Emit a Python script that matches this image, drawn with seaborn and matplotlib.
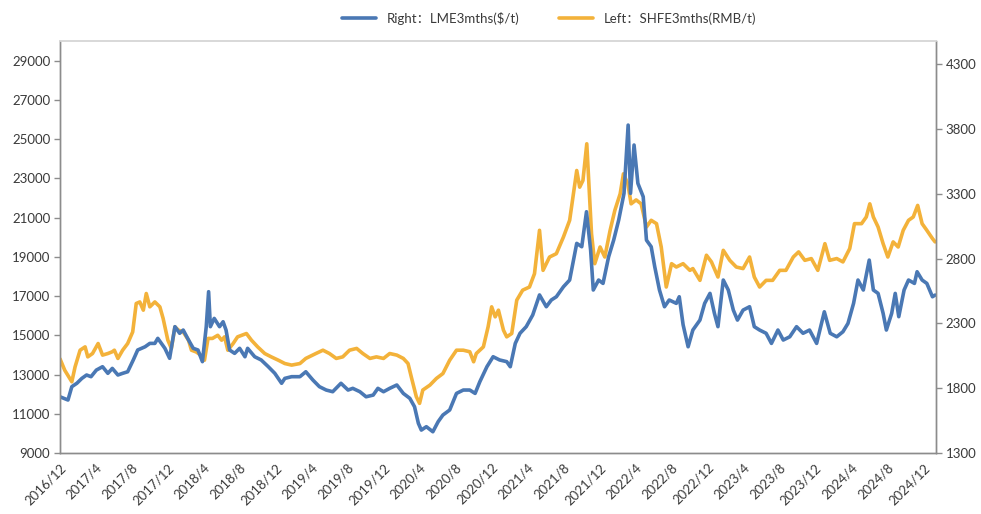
import seaborn as sns
import matplotlib.pyplot as plt
import pandas as pd

# SHFE 3-month price, RMB/t (left axis)
shfe_dates = [
    "2016-12-01", "2016-12-17", "2017-01-10", "2017-01-21", "2017-02-07", "2017-02-24", "2017-03-05",
    "2017-03-21", "2017-04-09", "2017-04-24", "2017-05-12", "2017-05-27", "2017-06-03", "2017-06-15",
    "2017-07-01", "2017-07-18", "2017-08-04", "2017-08-16", "2017-08-28", "2017-09-09", "2017-09-19",
    "2017-10-01", "2017-10-18", "2017-11-04", "2017-11-15", "2017-12-01", "2017-12-13", "2017-12-25",
    "2018-01-06", "2018-01-22", "2018-02-09", "2018-02-19", "2018-03-07", "2018-03-22", "2018-04-04",
    "2018-04-16", "2018-05-01", "2018-05-19", "2018-06-01", "2018-06-11", "2018-06-22", "2018-07-10",
    "2018-07-25", "2018-08-24", "2018-09-10", "2018-10-01", "2018-10-25", "2018-11-16", "2018-12-10",
    "2019-01-01", "2019-01-24", "2019-02-21", "2019-03-13", "2019-04-16", "2019-05-10", "2019-06-01",
    "2019-06-24", "2019-07-16", "2019-08-08", "2019-09-01", "2019-09-22", "2019-10-16", "2019-11-07",
    "2019-12-01", "2019-12-22", "2020-01-15", "2020-02-06", "2020-02-22", "2020-03-04", "2020-03-21",
    "2020-04-01", "2020-04-12", "2020-05-06", "2020-05-28", "2020-06-19", "2020-07-12", "2020-08-04",
    "2020-08-27", "2020-09-18", "2020-10-01", "2020-10-10", "2020-11-03", "2020-11-19", "2020-12-01",
    "2020-12-13", "2020-12-24", "2021-01-10", "2021-01-21", "2021-02-07", "2021-02-24", "2021-03-16",
    "2021-04-08", "2021-04-25", "2021-05-12", "2021-05-24", "2021-06-15", "2021-07-08", "2021-08-01",
    "2021-08-22", "2021-09-15", "2021-09-25", "2021-10-06", "2021-10-19", "2021-11-04", "2021-11-15",
    "2021-12-03", "2021-12-19", "2022-01-06", "2022-01-22", "2022-02-09", "2022-02-20", "2022-03-07",
    "2022-03-18", "2022-04-04", "2022-04-21", "2022-05-09", "2022-05-25", "2022-06-12", "2022-06-28",
    "2022-07-15", "2022-08-02", "2022-08-18", "2022-09-10", "2022-10-03", "2022-10-13", "2022-11-06",
    "2022-11-28", "2022-12-15", "2023-01-06", "2023-01-24", "2023-02-15", "2023-03-09", "2023-04-01",
    "2023-04-23", "2023-05-09", "2023-05-27", "2023-06-18", "2023-07-10", "2023-08-03", "2023-08-24",
    "2023-09-18", "2023-10-06", "2023-10-27", "2023-11-18", "2023-12-10", "2024-01-03", "2024-01-19",
    "2024-02-12", "2024-03-04", "2024-03-27", "2024-04-12", "2024-05-06", "2024-05-22", "2024-06-03",
    "2024-06-15", "2024-07-01", "2024-07-18", "2024-08-03", "2024-08-21", "2024-09-07", "2024-09-24",
    "2024-10-12", "2024-10-28", "2024-11-12", "2024-11-27", "2024-12-13", "2025-01-01", "2025-01-10",
]
shfe_values = [
    13800, 13220, 12630, 13390, 14240, 14410, 13900,
    14070, 14580, 13990, 14070, 14160, 14240, 13820,
    14240, 14580, 15170, 16620, 16700, 16280, 17130,
    16450, 16700, 16450, 15860, 14750, 14330, 15430,
    15260, 15170, 14750, 14240, 14150, 13990, 13730,
    14840, 14840, 15000, 14750, 14920, 14240, 14580,
    14920, 15090, 14750, 14410, 14070, 13900, 13730,
    13560, 13480, 13560, 13820, 14070, 14240, 14070,
    13820, 13900, 14240, 14330, 14070, 13820, 13900,
    13820, 14070, 13990, 13820, 13560, 12880, 11870,
    11530, 12210, 12460, 12800, 13050, 13730, 14240,
    14240, 14160, 13650, 14070, 14410, 15430, 16450,
    15940, 16280, 15260, 14920, 15090, 16790, 17300,
    17460, 18140, 20350, 18310, 18990, 19160, 20010,
    20860, 23400, 22550, 22890, 24760, 20180, 18650,
    19500, 18990, 20350, 21370, 22210, 23230, 22720,
    21700, 21900, 21700, 20520, 20860, 20690, 19500,
    17460, 18650, 18480, 18650, 18310, 18400, 17800,
    19080, 18740, 17970, 19330, 18820, 18480, 18400,
    18990, 17970, 17460, 17800, 17800, 18310, 18310,
    18990, 19250, 18820, 18910, 18310, 19670, 18820,
    18910, 18740, 19420, 20690, 20690, 21030, 21700,
    21030, 20520, 19670, 18990, 19760, 19500, 20350,
    20860, 21030, 21620, 20690, 20350, 19930, 19760,
]

# LME 3-month price, $/t (right axis)
lme_dates = [
    "2016-12-01", "2016-12-28", "2017-01-10", "2017-01-27", "2017-02-13", "2017-03-01", "2017-03-16",
    "2017-04-03", "2017-04-24", "2017-05-12", "2017-05-27", "2017-06-15", "2017-07-01", "2017-07-18",
    "2017-08-06", "2017-08-21", "2017-09-15", "2017-10-01", "2017-10-18", "2017-10-28", "2017-11-21",
    "2017-12-07", "2017-12-25", "2018-01-10", "2018-01-22", "2018-02-09", "2018-02-25", "2018-03-13",
    "2018-03-28", "2018-04-10", "2018-04-18", "2018-04-24", "2018-05-07", "2018-05-25", "2018-06-06",
    "2018-06-16", "2018-06-28", "2018-07-15", "2018-08-01", "2018-08-19", "2018-08-28", "2018-09-21",
    "2018-10-13", "2018-11-06", "2018-11-28", "2018-12-21", "2019-01-01", "2019-01-24", "2019-02-21",
    "2019-03-13", "2019-04-06", "2019-04-28", "2019-05-21", "2019-06-12", "2019-07-10", "2019-08-03",
    "2019-08-19", "2019-09-12", "2019-10-03", "2019-10-27", "2019-11-12", "2019-12-01", "2019-12-22",
    "2020-01-15", "2020-02-06", "2020-02-28", "2020-03-15", "2020-03-28", "2020-04-07", "2020-04-24",
    "2020-05-16", "2020-06-03", "2020-06-19", "2020-07-12", "2020-08-04", "2020-08-27", "2020-09-18",
    "2020-10-06", "2020-10-22", "2020-11-15", "2020-12-06", "2020-12-28", "2021-01-21", "2021-02-02",
    "2021-02-19", "2021-03-07", "2021-03-28", "2021-04-19", "2021-05-12", "2021-06-04", "2021-06-21",
    "2021-07-08", "2021-08-01", "2021-08-22", "2021-09-15", "2021-10-02", "2021-10-18", "2021-11-01",
    "2021-11-10", "2021-11-28", "2021-12-13", "2022-01-01", "2022-01-18", "2022-02-04", "2022-02-22",
    "2022-03-08", "2022-03-16", "2022-03-28", "2022-04-10", "2022-04-28", "2022-05-09", "2022-05-25",
    "2022-06-06", "2022-06-22", "2022-07-09", "2022-07-25", "2022-08-18", "2022-08-28", "2022-09-10",
    "2022-09-27", "2022-10-13", "2022-11-06", "2022-11-22", "2022-12-10", "2022-12-25", "2023-01-06",
    "2023-01-24", "2023-02-10", "2023-02-27", "2023-03-13", "2023-04-01", "2023-04-23", "2023-05-09",
    "2023-05-27", "2023-06-18", "2023-07-06", "2023-07-28", "2023-08-15", "2023-09-06", "2023-09-29",
    "2023-10-21", "2023-11-12", "2023-12-06", "2024-01-01", "2024-01-21", "2024-02-12", "2024-03-04",
    "2024-03-21", "2024-04-09", "2024-04-24", "2024-05-12", "2024-06-01", "2024-06-15", "2024-07-01",
    "2024-07-18", "2024-07-29", "2024-08-16", "2024-08-28", "2024-09-09", "2024-09-27", "2024-10-12",
    "2024-11-01", "2024-11-10", "2024-11-27", "2024-12-13", "2025-01-01", "2025-01-10",
]
lme_values = [
    1734, 1709, 1812, 1838, 1876, 1902, 1889,
    1940, 1966, 1915, 1953, 1902, 1915, 1927,
    2018, 2095, 2120, 2146, 2146, 2185, 2108,
    2031, 2275, 2224, 2249, 2172, 2108, 2095,
    2005, 2275, 2545, 2275, 2339, 2275, 2313,
    2249, 2095, 2069, 2108, 2043, 2108, 2043,
    2018, 1966, 1915, 1838, 1876, 1889, 1889,
    1927, 1863, 1812, 1786, 1773, 1838, 1786,
    1799, 1773, 1734, 1747, 1799, 1773, 1799,
    1825, 1760, 1722, 1657, 1529, 1477, 1503,
    1464, 1542, 1593, 1632, 1760, 1786, 1786,
    1760, 1850, 1966, 2043, 2018, 2005, 1966,
    2146, 2224, 2275, 2365, 2520, 2429, 2481,
    2506, 2583, 2635, 2918, 2892, 3162, 2866,
    2558, 2635, 2609, 2815, 2943, 3098, 3304,
    3831, 3304, 3677, 3381, 3278, 2943, 2892,
    2738, 2558, 2429, 2481, 2455, 2506, 2290,
    2120, 2249, 2326, 2455, 2532, 2378, 2275,
    2635, 2558, 2403, 2326, 2403, 2429, 2275,
    2249, 2224, 2146, 2249, 2172, 2197, 2275,
    2224, 2249, 2146, 2390, 2224, 2197, 2236,
    2300, 2455, 2635, 2558, 2789, 2558, 2532,
    2378, 2249, 2378, 2532, 2352, 2558, 2635,
    2609, 2699, 2635, 2609, 2506, 2519,
]

tick_dates = pd.date_range("2016-12-01", "2024-12-01", freq="4MS")
tick_labels = [f"{d.year}/{d.month}" for d in tick_dates]

blue = "#4A78B4"
gold = "#F3B23A"
axis_grey = "#8C8C8C"

sns.set_theme(style="white")
plt.rcParams["font.family"] = ["Lato", "Noto Sans CJK SC", "DejaVu Sans"]

shfe = pd.DataFrame({"date": pd.to_datetime(shfe_dates), "price": shfe_values})
lme = pd.DataFrame({"date": pd.to_datetime(lme_dates), "price": lme_values})

fig = plt.figure(figsize=(9.81, 5.14), dpi=100)
ax = fig.add_axes([60 / 981, 61 / 514, 876 / 981, 412 / 514])
ax2 = ax.twinx()

sns.lineplot(data=shfe, x="date", y="price", ax=ax, color=gold, linewidth=2.6,
             label="Left：SHFE3mths(RMB/t)", legend=False)
sns.lineplot(data=lme, x="date", y="price", ax=ax2, color=blue, linewidth=2.6,
             label="Right：LME3mths($/t)", legend=False)

ax.set_xlim(pd.Timestamp("2016-12-01"), pd.Timestamp("2025-01-13"))
ax.set_ylim(9000, 30000)
ax.set_yticks(range(9000, 30001, 2000))
ax2.set_ylim(1300, 4480)
ax2.set_yticks(range(1300, 4301, 500))

ax.set_xticks(tick_dates)
ax.set_xticklabels(tick_labels, rotation=45, ha="right", rotation_mode="anchor")

for a in (ax, ax2):
    a.set_xlabel("")
    a.set_ylabel("")
    for side in ("left", "right", "bottom"):
        a.spines[side].set_color(axis_grey)
        a.spines[side].set_linewidth(1.0)
    a.spines["top"].set_color("#D9D9D9")
    a.tick_params(axis="both", direction="out", length=4, width=1.0, color=axis_grey,
                  labelsize=9.5, labelcolor="#3A3A3A", pad=3)
ax.tick_params(axis="x", pad=2)

handles = [ax2.get_lines()[0], ax.get_lines()[0]]
fig.legend(handles, [h.get_label() for h in handles], loc="upper center",
           bbox_to_anchor=(549 / 981, 1.0), ncol=2, frameon=False, fontsize=9.5,
           handlelength=2.6, columnspacing=3.0, labelcolor="#3A3A3A")

plt.savefig("out.png", dpi=100)
